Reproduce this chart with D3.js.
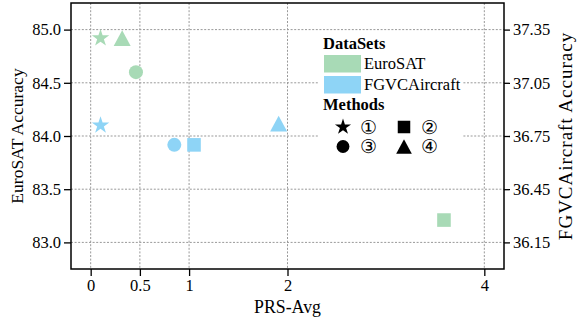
<!DOCTYPE html>
<html><head><meta charset="utf-8">
<script src="https://cdn.jsdelivr.net/npm/d3@7"></script>
<style>body{margin:0;background:#fff}svg{display:block}text{font-family:"Liberation Serif","Times New Roman",serif;fill:#000}</style>
</head><body>
<svg id="c" width="580" height="317"></svg>
<script>
// ---- data ----
const datasets = ["EuroSAT", "FGVCAircraft"];
const datasetColors = ["#a8dab6", "#8ed4f6"];
const methods = ["①", "②", "③", "④"];
const methodShapes = ["star", "square", "circle", "triangle"];
// EuroSAT (left axis)
const eurosatPRS = [0.1, 3.59, 0.46, 0.32];
const eurosatAcc = [84.92, 83.21, 84.60, 84.92];
// FGVCAircraft (right axis)
const fgvcPRS = [0.1, 1.05, 0.85, 1.91];
const fgvcAcc = [36.81, 36.70, 36.70, 36.82];
const xTicks = [0, 0.5, 1, 2, 4];
const xTickLabels = ["0", "0.5", "1", "2", "4"];
const yLeftTicks = [83.0, 83.5, 84.0, 84.5, 85.0];
const yRightTicks = [36.15, 36.45, 36.75, 37.05, 37.35];

// ---- layout ----
const L = 71, R = 504, T = 3, B = 269;
const svg = d3.select("#c");
const x = d3.scaleLinear().domain([-0.2, 4.2]).range([L, R]);
const yL = d3.scaleLinear().domain([82.75, 85.25]).range([B, T]);
const yR = d3.scaleLinear().domain([36.0, 37.5]).range([B, T]);

// custom marker shapes
const shapes = {
  star: { draw(ctx, r) {
    const ri = r * 0.381966;
    for (let i = 0; i < 10; i++) {
      const rad = i % 2 ? ri : r;
      const a = -Math.PI / 2 + i * Math.PI / 5;
      const px = rad * Math.cos(a), py = rad * Math.sin(a);
      i ? ctx.lineTo(px, py) : ctx.moveTo(px, py);
    }
    ctx.closePath();
  }},
  square: { draw(ctx, r) { ctx.rect(-r, -r, 2 * r, 2 * r); } },
  circle: { draw(ctx, r) { ctx.moveTo(r, 0); ctx.arc(0, 0, r, 0, 2 * Math.PI); } },
  triangle: { draw(ctx, r) { ctx.moveTo(0, -r * 0.92); ctx.lineTo(-r, r * 0.92); ctx.lineTo(r, r * 0.92); ctx.closePath(); } }
};
const shapeSize = { star: 9.2, square: 6.8, circle: 7, triangle: 8.5 };
const sym = (s, k = 1) => d3.symbol().type(shapes[s]).size(shapeSize[s] * k)();

// ---- grid ----
const grid = svg.append("g").attr("stroke", "#999").attr("stroke-width", 1).attr("stroke-dasharray", "2,1.6");
grid.selectAll("line.v").data(xTicks).join("line").attr("class", "v")
  .attr("x1", d => x(d)).attr("x2", d => x(d)).attr("y1", T).attr("y2", B);
grid.selectAll("line.h").data(yLeftTicks).join("line").attr("class", "h")
  .attr("x1", L).attr("x2", R).attr("y1", d => yL(d)).attr("y2", d => yL(d));

// ---- points ----
const pts = svg.append("g");
eurosatPRS.forEach((p, i) => {
  pts.append("path").attr("d", sym(methodShapes[i]))
    .attr("transform", `translate(${x(p)},${yL(eurosatAcc[i])})`).attr("fill", datasetColors[0]);
});
fgvcPRS.forEach((p, i) => {
  pts.append("path").attr("d", sym(methodShapes[i]))
    .attr("transform", `translate(${x(p)},${yR(fgvcAcc[i])})`).attr("fill", datasetColors[1]);
});

// ---- axes ----
const fs = "16.5px";
const ax = svg.append("g").attr("transform", `translate(0,${B})`)
  .call(d3.axisBottom(x).tickValues(xTicks).tickFormat((d, i) => xTickLabels[i]).tickSize(7).tickPadding(3));
const ayl = svg.append("g").attr("transform", `translate(${L},0)`)
  .call(d3.axisLeft(yL).tickValues(yLeftTicks).tickFormat(d3.format(".1f")).tickSize(7).tickPadding(3));
const ayr = svg.append("g").attr("transform", `translate(${R},0)`)
  .call(d3.axisRight(yR).tickValues(yRightTicks).tickFormat(d3.format(".2f")).tickSize(6).tickPadding(3));
[ax, ayl, ayr].forEach(g => {
  g.select(".domain").remove();
  g.selectAll("line").attr("stroke", "#000").attr("stroke-width", 1.3);
  g.selectAll("text").attr("font-family", '"Liberation Serif",serif').attr("font-size", fs).attr("fill", "#000");
});
svg.append("rect").attr("x", L).attr("y", T).attr("width", R - L).attr("height", B - T)
  .attr("fill", "none").attr("stroke", "#000").attr("stroke-width", 1.5);

// ---- axis labels ----
svg.append("text").attr("x", (L + R) / 2).attr("y", 313).attr("text-anchor", "middle")
  .attr("font-size", "17.8px").text("PRS-Avg");
svg.append("text").attr("transform", `translate(23,${(T + B) / 2}) rotate(-90)`).attr("text-anchor", "middle")
  .attr("font-size", "17.5px").text("EuroSAT Accuracy");
svg.append("text").attr("transform", `translate(572,${(T + B) / 2}) rotate(-90)`).attr("text-anchor", "middle")
  .attr("font-size", "19px").attr("letter-spacing", "1px").text("FGVCAircraft Accuracy");

// ---- legend ----
const lg = svg.append("g");
lg.append("rect").attr("x", 319).attr("y", 33).attr("width", 143).attr("height", 124).attr("fill", "#fff");
lg.append("text").attr("x", 323).attr("y", 49).attr("font-size", "16.5px").attr("font-weight", "bold").text("DataSets");
datasets.forEach((d, i) => {
  lg.append("rect").attr("x", 324).attr("y", 55 + i * 21).attr("width", 37).attr("height", 17.5).attr("fill", datasetColors[i]);
  lg.append("text").attr("x", 364).attr("y", 69 + i * 21).attr("font-size", "16.5px").text(d);
});
lg.append("text").attr("x", 323).attr("y", 110).attr("font-size", "16.5px").attr("font-weight", "bold").text("Methods");
methods.forEach((m, i) => {
  const col = i % 2, row = Math.floor(i / 2);
  const mx = 343 + col * 61, my = 127 + row * 19.5;
  lg.append("path").attr("d", sym(methodShapes[i], 0.92)).attr("transform", `translate(${mx},${my})`).attr("fill", "#000");
  lg.append("text").attr("x", mx + 25).attr("y", my).attr("dy", "0.36em").attr("text-anchor", "middle")
    .attr("font-family", '"Noto Sans CJK JP","DejaVu Sans",sans-serif').attr("font-weight", "300")
    .attr("font-size", "19px").text(m);
});
</script>
</body></html>
